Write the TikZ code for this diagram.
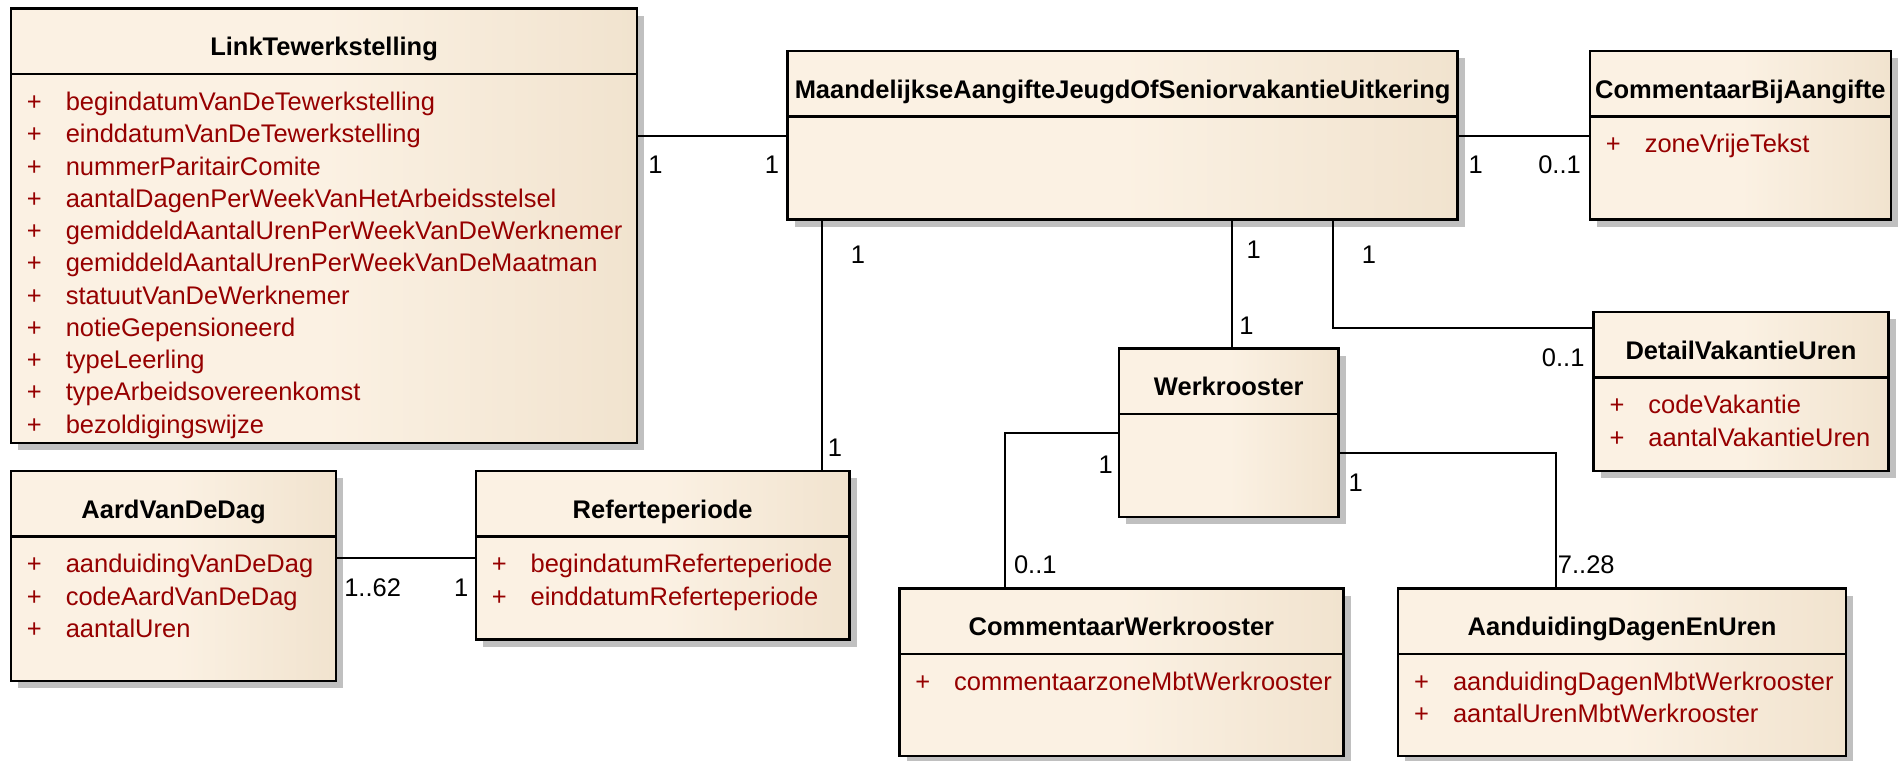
\documentclass[tikz,border=0pt]{standalone}
\usepackage{fontspec}
\setmainfont{Liberation Sans}
\usetikzlibrary{calc,positioning}
\definecolor{umllight}{RGB}{251,241,227}
\definecolor{umltan}{RGB}{231,213,186}
\definecolor{umlshadow}{RGB}{192,192,192}
\definecolor{attrred}{RGB}{150,0,0}
\pgfdeclarehorizontalshading{umlfill}{100bp}{color(0bp)=(umllight); color(50bp)=(umllight); color(100bp)=(umltan)}
\tikzset{
	classbox/.style={draw, line width=2pt, shading=umlfill, inner sep=0pt, outer sep=0pt},
	classtitle/.style={anchor=base, inner sep=0pt, font=\fontsize{21}{25}\selectfont\bfseries},
	attr/.style={anchor=base west, inner sep=0pt, text=attrred, font=\fontsize{21}{25}\selectfont},
	assoc/.style={line width=1.5pt},
	mult/.style={inner sep=0pt, font=\fontsize{21}{25}\selectfont},
}
\def\umlclass[#1](#2,#3)(#4,#5)#6% Syntax: [name] (left,top) (width,height) {title}
{ \fill[umlshadow] (#2+6,#3+6) rectangle ++(#4,#5);
	\node[classbox, anchor=north west, minimum width=#4pt, minimum height=#5pt] (#1) at (#2,#3) {};
	\draw[line width=2pt] ($(#1.north west)+(0,54)$) -- ($(#1.north east)+(0,54)$);
	\node[classtitle] (#1-title) at ($(#1.north)+(0,39)$) {#6}; }
\def\umlattrs[#1]#2% Syntax: [name] {attribute list}
{ \foreach \a [count=\i] in {#2}
	{ \node[attr] (#1-plus-\i) at ($(#1.north west)+(13,84+26.6*\i-26.6)$) {+};
		\node[attr] (#1-attr-\i) at ($(#1.north west)+(45,84+26.6*\i-26.6)$) {\a}; } }

\begin{document}
\begin{tikzpicture}[x=1pt,y=-1pt]
	\useasboundingbox (0,0) rectangle (1568,627);

	%classes
	\umlclass[link](9,7)(516,358){LinkTewerkstelling}
	\umlattrs[link]{begindatumVanDeTewerkstelling, einddatumVanDeTewerkstelling, nummerParitairComite,
		aantalDagenPerWeekVanHetArbeidsstelsel, gemiddeldAantalUrenPerWeekVanDeWerknemer,
		gemiddeldAantalUrenPerWeekVanDeMaatman, statuutVanDeWerknemer, notieGepensioneerd,
		typeLeerling, typeArbeidsovereenkomst, bezoldigingswijze}
	\umlclass[maand](649,42)(552,139){MaandelijkseAangifteJeugdOfSeniorvakantieUitkering}
	\umlclass[commbij](1310,42)(248,139){CommentaarBijAangifte}
	\umlattrs[commbij]{zoneVrijeTekst}
	\umlclass[detail](1313,257)(243,131){DetailVakantieUren}
	\umlattrs[detail]{codeVakantie, aantalVakantieUren}
	\umlclass[werk](922,287)(181,139){Werkrooster}
	\umlclass[aard](9,388)(268,173){AardVanDeDag}
	\umlattrs[aard]{aanduidingVanDeDag, codeAardVanDeDag, aantalUren}
	\umlclass[refert](392,388)(308,139){Referteperiode}
	\umlattrs[refert]{begindatumReferteperiode, einddatumReferteperiode}
	\umlclass[commw](741,485)(366,138){CommentaarWerkrooster}
	\umlattrs[commw]{commentaarzoneMbtWerkrooster}
	\umlclass[aand](1152,485)(369,138){AanduidingDagenEnUren}
	\umlattrs[aand]{aanduidingDagenMbtWerkrooster, aantalUrenMbtWerkrooster}

	%associations
	\coordinate (lmy) at ($(maand.north west)+(0,70)$);
	\draw[assoc] (link.east |- lmy) -- (lmy);				%link - maand
	\draw[assoc] (maand.east |- lmy) -- (commbij.west |- lmy);	%maand - commbij
	\coordinate (mr) at ($(maand.south west)+(28,0)$);
	\draw[assoc] (mr) -- (mr |- refert.north);			%maand - refert
	\coordinate (mw) at ($(maand.south west)+(366,0)$);
	\draw[assoc] (mw) -- (mw |- werk.north);				%maand - werk
	\coordinate (md) at ($(maand.south west)+(449,0)$);
	\draw[assoc] (md) |- ($(detail.north west)+(0,13)$);	%maand - detail
	\draw[assoc] ($(werk.north west)+(0,70)$) -| ($(commw.north west)+(87,0)$);	%werk - commw
	\draw[assoc] ($(werk.north east)+(0,86)$) -| ($(aand.north west)+(130,0)$);	%werk - aand
	\draw[assoc] ($(aard.north east)+(0,72)$) -- ($(refert.north west)+(0,72)$);	%aard - refert

	%multiplicities
	\node[mult] (m-link) at (540,136) {1};
	\node[mult] (m-maand-l) at (636,136) {1};
	\node[mult] (m-maand-r) at (1216,136) {1};
	\node[mult] (m-commbij) at (1285,136) {0..1};
	\node[mult] (m-maand-b1) at (707,210) {1};
	\node[mult] (m-refert) at (688,369) {1};
	\node[mult] (m-maand-b2) at (1033,206) {1};
	\node[mult] (m-werk-t) at (1027,268) {1};
	\node[mult] (m-maand-b3) at (1128,210) {1};
	\node[mult] (m-detail) at (1288,295) {0..1};
	\node[mult] (m-werk-l) at (911,383) {1};
	\node[mult] (m-commw) at (853,465) {0..1};
	\node[mult] (m-werk-r) at (1117,398) {1};
	\node[mult] (m-aand) at (1307,465) {7..28};
	\node[mult] (m-aard) at (307,484) {1..62};
	\node[mult] (m-refert-l) at (380,484) {1};
\end{tikzpicture}
\end{document}
